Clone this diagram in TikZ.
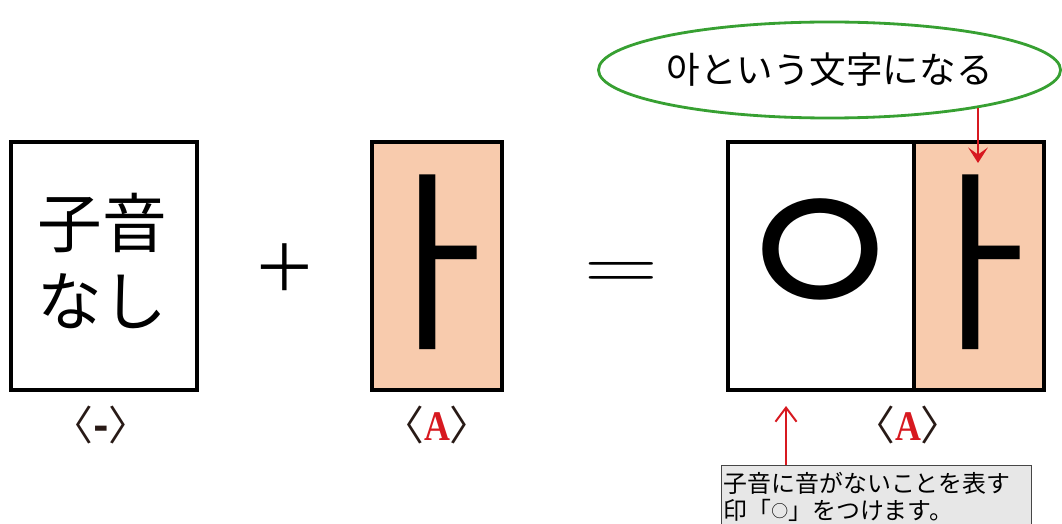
\documentclass[tikz,border=0pt]{standalone}
\usepackage{fontspec}
\newfontfamily\jpfont{Noto Sans CJK JP}
\newfontfamily\krfont{Noto Sans CJK KR}
\newfontfamily\letterfont[FakeStretch=0.85]{Liberation Serif}
\newfontfamily\signfont[FakeStretch=1.3]{Latin Modern Roman}
\definecolor{peach}{RGB}{248,203,173}
\definecolor{bubblegreen}{RGB}{55,160,50}
\definecolor{pointred}{RGB}{215,25,32}
\definecolor{tagbrown}{RGB}{40,26,22}
\definecolor{notefill}{RGB}{231,231,231}
\definecolor{notegray}{RGB}{70,70,70}
\usetikzlibrary{shapes.geometric,arrows.meta}

\begin{document}
\begin{tikzpicture}[
  x=0.025cm, y=-0.025cm,
  card/.style={draw=black, fill=white, line width=2.8pt, minimum width=4.65cm, minimum height=6.2cm, inner sep=0},
  vowelcard/.style={card, fill=peach, minimum width=3.25cm},
  jamo/.style={font=\krfont\fontsize{140}{140}\selectfont, inner sep=0},
  sign/.style={font=\jpfont\fontsize{46}{46}\selectfont, inner sep=0},
  tag/.style={font=\jpfont\fontsize{29}{29}\selectfont, text=tagbrown, inner sep=0},
  bubble/.style={ellipse, draw=bubblegreen, line width=2pt, minimum width=11.55cm, minimum height=2.4cm, inner xsep=-3pt, inner ysep=0, font=\jpfont\fontsize{26}{26}\selectfont},
  note/.style={anchor=north west, draw=notegray, fill=notefill, line width=0.8pt, text width=7.65cm, align=left, inner xsep=1.5pt, inner ysep=5pt, font=\jpfont\fontsize{17}{19}\selectfont},
  pointer/.style={draw=pointred, line width=1.4pt}
]
\useasboundingbox (0,0) rectangle (1062,524);
\clip (0,0) rectangle (1062,524);

% consonant card + vowel card = syllable
\node[card] (nocons) at (104,266) {};
\node[sign, font=\jpfont\fontsize{46}{55}\selectfont, align=center] (noconstext) at (102,261) {子音\\なし};
\node[sign] (plus) at (285,268) {＋};
\node[vowelcard] (vowel) at (437,266) {};
\node[jamo] (vowelglyph) at (433,262) {ㅏ};
\node[font=\signfont\fontsize{56}{56}\selectfont, inner sep=0] (equals) at (621,276) {=};
\node[card] (zerobox) at (821,266) {};
\node[vowelcard] (abox) at (979,266) {};
\node[jamo, font=\krfont\fontsize{145}{145}\selectfont] (zeroglyph) at (820,263) {ㅇ};
\node[jamo] (aglyph) at (976,262) {ㅏ};

% labels under the cards
\node[tag] (tagnone) at (101,425) {〈\textbf{-}〉};
\node[tag] (tagvowel) at (437,425) {〈{\letterfont\bfseries\fontsize{30}{30}\selectfont\color{pointred}A}〉};
\node[tag] (tagsyll) at (908,425) {〈{\letterfont\bfseries\fontsize{30}{30}\selectfont\color{pointred}A}〉};

% callouts
\node[bubble] (result) at (829.5,70) {아という文字になる};
\coordinate (resulttip) at (978,163);
\draw[pointer, -{Stealth[length=11pt, width=14pt, inset=5pt]}] (resulttip |- result.-14) -- (resulttip);

\node[note] (zeronote) at (721,465) {子音に音がないことを表す\\印「\raisebox{1.5pt}{\fontsize{12}{12}\selectfont ○}」をつけます。};
\coordinate (notetip) at (786,406);
\draw[pointer, -{Straight Barb[length=10pt, width=15pt]}] (notetip |- zeronote.north) -- (notetip);
\end{tikzpicture}
\end{document}
